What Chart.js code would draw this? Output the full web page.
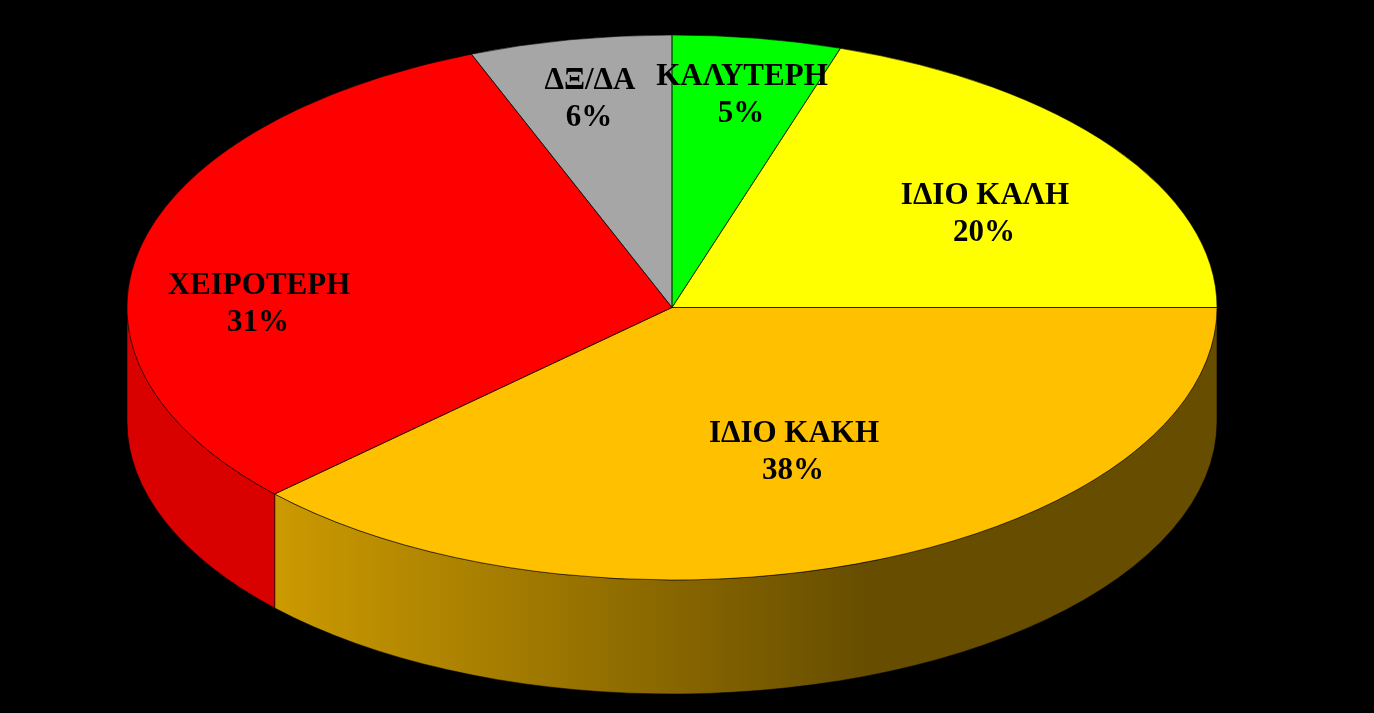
<!DOCTYPE html>
<html>
<head>
<meta charset="utf-8">
<title>Pie</title>
<script src="https://cdn.jsdelivr.net/npm/chart.js@4"></script>
<style>
    html, body { margin: 0; padding: 0; background: #000; overflow: hidden; }
    canvas { display: block; }
</style>
</head>
<body>
<canvas id="pie" width="1374" height="713"></canvas>
<script>
// clockwise from 12 o'clock
const categories = ['ΚΑΛΥΤΕΡΗ', 'ΙΔΙΟ ΚΑΛΗ', 'ΙΔΙΟ ΚΑΚΗ', 'ΧΕΙΡΟΤΕΡΗ', 'ΔΞ/ΔΑ'];
const values = [5, 20, 38, 31, 6];
const topColors = ['#00FF00', '#FFFF00', '#FFC000', '#FF0000', '#A6A6A6'];
const sideColors = ['#00CC00', '#CCCC00', ['#CC9A00', '#664D00'], '#D90000', '#858585'];

// centre of each two line label, in page pixels
const labelSpots = [[742, 77], [985, 196], [794, 434], [259, 286], [590, 81]];

const RX = 545, RY = 272.5, DEPTH = 114;
const GRAD_END_X = 870;
const EDGE = 'rgba(0,0,0,0.8)';

function squash(ctx, arc) {
    ctx.translate(arc.x, arc.y);
    ctx.scale(RX / arc.outerRadius, RY / arc.outerRadius);
    ctx.translate(-arc.x, -arc.y);
}

// the rim below the top face, only the front half (0..PI) can be seen
function drawSides(chart) {
    const ctx = chart.ctx;
    chart.getDatasetMeta(0).data.forEach((arc, i) => {
        const a0 = Math.max(arc.startAngle, 0);
        const a1 = Math.min(arc.endAngle, Math.PI);
        if (a1 <= a0) return;

        ctx.save();
        ctx.beginPath();
        ctx.ellipse(arc.x, arc.y, RX, RY, 0, a0, a1);
        ctx.ellipse(arc.x, arc.y + DEPTH, RX, RY, 0, a1, a0, true);
        ctx.closePath();

        const col = sideColors[i];
        if (Array.isArray(col)) {
            const leftX = arc.x + RX * Math.cos(a1);
            const grad = ctx.createLinearGradient(leftX, 0, GRAD_END_X, 0);
            grad.addColorStop(0, col[0]);
            grad.addColorStop(1, col[1]);
            ctx.fillStyle = grad;
        } else {
            ctx.fillStyle = col;
        }
        ctx.fill();
        ctx.strokeStyle = EDGE;
        ctx.lineWidth = 0.7;
        ctx.stroke();
        ctx.restore();
    });
}

// outlines are built squashed but stroked unsquashed, so the line stays even
function drawOutlines(chart) {
    const ctx = chart.ctx;
    chart.getDatasetMeta(0).data.forEach(arc => {
        ctx.save();
        squash(ctx, arc);
        ctx.beginPath();
        ctx.moveTo(arc.x, arc.y);
        ctx.arc(arc.x, arc.y, arc.outerRadius, arc.startAngle, arc.endAngle);
        ctx.closePath();
        ctx.restore();
        ctx.save();
        ctx.strokeStyle = EDGE;
        ctx.lineWidth = 0.7;
        ctx.stroke();
        ctx.restore();
    });
}

function drawLabels(chart) {
    const ctx = chart.ctx;
    ctx.save();
    ctx.fillStyle = '#000';
    ctx.font = 'bold 31px "Liberation Serif"';
    ctx.textAlign = 'center';
    ctx.textBaseline = 'middle';
    categories.forEach((name, i) => {
        const [x, y] = labelSpots[i];
        ctx.fillText(name, x, y);
        ctx.fillText(values[i] + '%', x - 1, y + 37);
    });
    ctx.restore();
}

const pie3d = {
    id: 'pie3d',
    beforeDatasetsDraw(chart) {
        drawSides(chart);
        chart.ctx.save();
        squash(chart.ctx, chart.getDatasetMeta(0).data[0]);
    },
    afterDatasetsDraw(chart) {
        chart.ctx.restore();
        drawOutlines(chart);
        drawLabels(chart);
    }
};

new Chart(document.getElementById('pie'), {
    type: 'pie',
    data: {
        labels: categories,
        datasets: [{ data: values, backgroundColor: topColors, borderWidth: 0, clip: false }]
    },
    options: {
        responsive: false,
        animation: false,
        layout: { padding: { right: 30, bottom: 98 } },
        plugins: { legend: { display: false }, tooltip: { enabled: false } }
    },
    plugins: [pie3d]
});
</script>
</body>
</html>
